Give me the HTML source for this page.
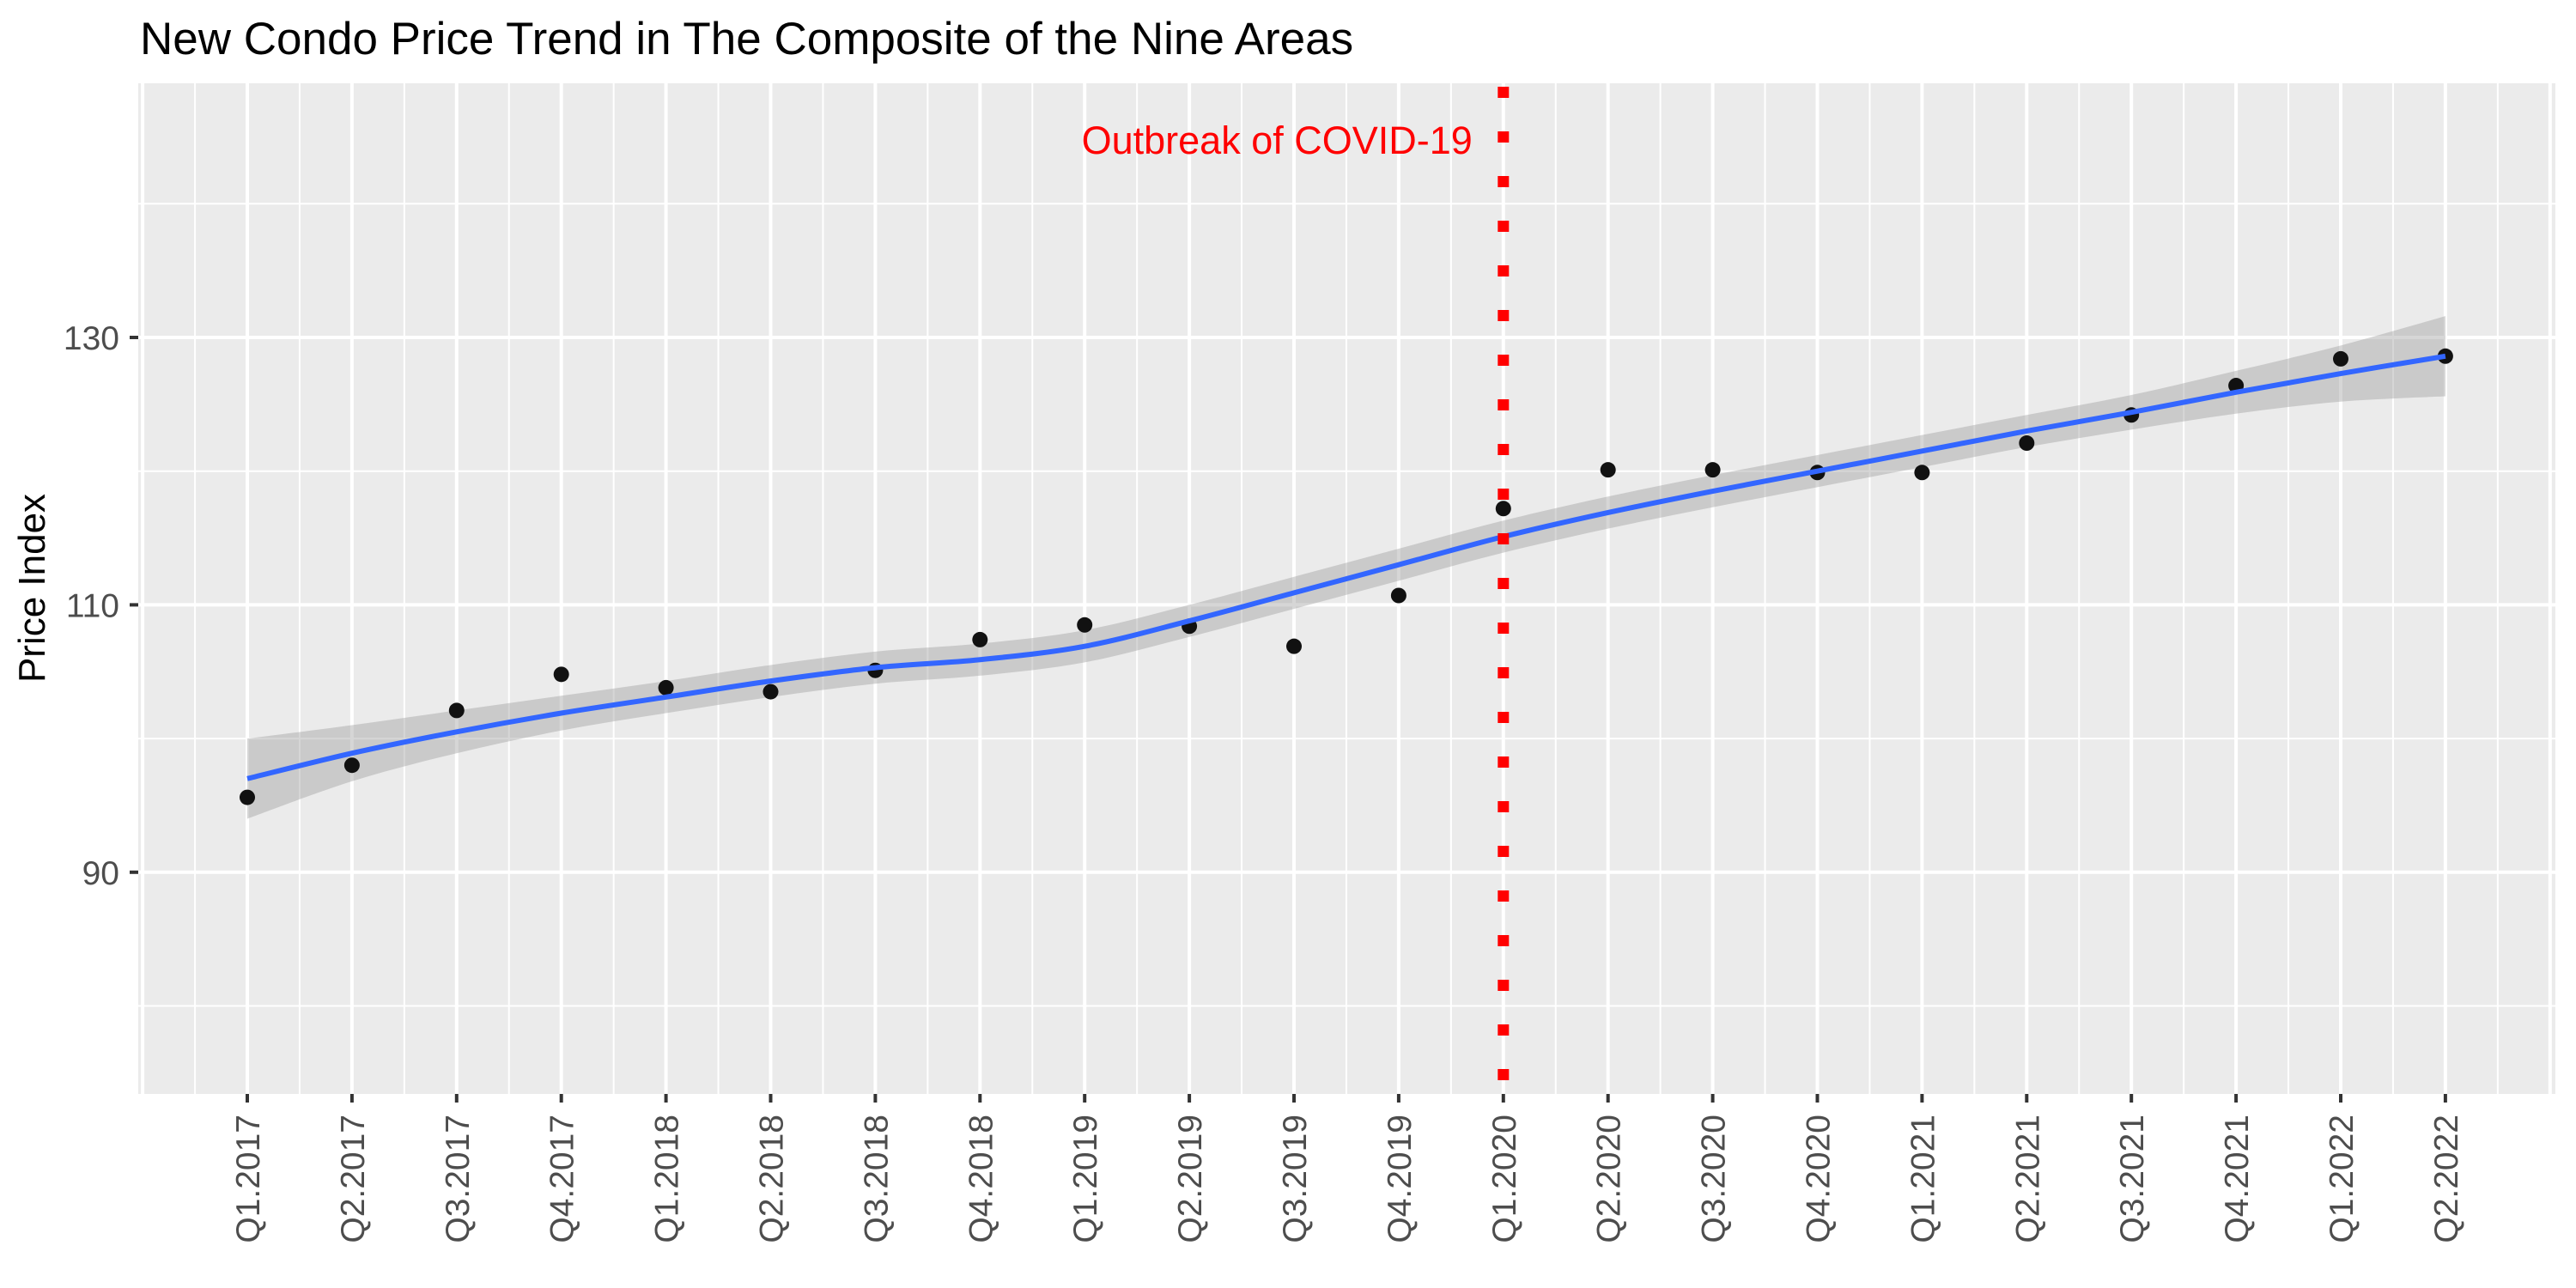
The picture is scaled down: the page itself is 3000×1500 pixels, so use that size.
<!DOCTYPE html>
<html><head><meta charset="utf-8"><style>
html,body{margin:0;padding:0;background:#fff;}
svg{display:block;font-family:"Liberation Sans",Arial,sans-serif;}
</style></head><body>
<svg id="chart" width="3000" height="1500" viewBox="0 0 3000 1500" xmlns="http://www.w3.org/2000/svg">
<rect x="0" y="0" width="3000" height="1500" fill="#fff"/>
<text x="163" y="63" font-size="53" fill="#000">New Condo Price Trend in The Composite of the Nine Areas</text>
<rect x="161" y="97" width="2815" height="1177" fill="#ebebeb"/>
<g id="grid"></g>
<g id="ribbon"></g>
<g id="marks"></g>
<g id="axes"></g>
<text transform="translate(52,685) rotate(-90)" text-anchor="middle" font-size="44" fill="#000">Price Index</text>
</svg>
<script>
const categories = ["Q1.2017","Q2.2017","Q3.2017","Q4.2017","Q1.2018","Q2.2018","Q3.2018","Q4.2018","Q1.2019","Q2.2019","Q3.2019","Q4.2019","Q1.2020","Q2.2020","Q3.2020","Q4.2020","Q1.2021","Q2.2021","Q3.2021","Q4.2021","Q1.2022","Q2.2022"];
const priceIndex = [95.6,98.0,102.1,104.8,103.8,103.5,105.1,107.4,108.5,108.4,106.9,110.7,117.2,120.1,120.1,119.9,119.9,122.1,124.2,126.4,128.4,128.6];
const smoothFit = [97.0,98.9,100.5,101.9,103.1,104.3,105.3,105.9,106.9,108.8,110.9,113.0,115.1,116.9,118.5,120.0,121.5,123.0,124.4,125.9,127.3,128.6];
const ciHalfWidth = [3.0,2.1,1.6,1.3,1.2,1.2,1.2,1.2,1.2,1.2,1.2,1.2,1.2,1.2,1.2,1.2,1.2,1.2,1.3,1.6,2.1,3.0];
const yTicks = [90,110,130];
const yMinor = [80,100,120,140];
const eventIndex = 12;
const eventLabel = "Outbreak of COVID-19";

const NS="http://www.w3.org/2000/svg";
const PL=161,PR=2976,PT=97,PB=1274;
const X0=288,STEP=121.9;
function xs(i){return X0+i*STEP;}
function ys(v){return 393+(130-v)*15.57;}
function mk(tag,attrs,parent){const e=document.createElementNS(NS,tag);for(const k in attrs)e.setAttribute(k,attrs[k]);parent.appendChild(e);return e;}
function smoothPath(pts,start){
 let d=(start?'M':'L')+pts[0][0]+','+pts[0][1];
 for(let i=0;i<pts.length-1;i++){
  const p0=pts[Math.max(i-1,0)],p1=pts[i],p2=pts[i+1],p3=pts[Math.min(i+2,pts.length-1)];
  const c1=[p1[0]+(p2[0]-p0[0])/6,p1[1]+(p2[1]-p0[1])/6];
  const c2=[p2[0]-(p3[0]-p1[0])/6,p2[1]-(p3[1]-p1[1])/6];
  d+=` C${c1[0]},${c1[1]} ${c2[0]},${c2[1]} ${p2[0]},${p2[1]}`;
 }
 return d;
}
const grid=document.getElementById('grid'),rib=document.getElementById('ribbon'),marks=document.getElementById('marks'),axes=document.getElementById('axes');

yMinor.forEach(v=>{const y=ys(v);if(y<PT||y>PB)return;
 const l=mk('line',{x1:PL,x2:PR,y1:y,y2:y,stroke:'#fff','stroke-width':2},grid);
 
 });
for(let i=-1;i<=categories.length;i++){const x=xs(i)-STEP/2;if(x<PL||x>PR)continue;
 const l=mk('line',{x1:x,x2:x,y1:PT,y2:PB,stroke:'#fff','stroke-width':2},grid);
 
 }
{const x=xs(-1);const l=mk('line',{x1:x,x2:x,y1:PT,y2:PB,stroke:'#fff','stroke-width':4},grid);
 
 }
{const x=xs(categories.length);const l=mk('line',{x1:x,x2:x,y1:PT,y2:PB,stroke:'#fff','stroke-width':4},grid);
 
 }
yTicks.forEach(v=>{const y=ys(v);
 const l=mk('line',{x1:PL,x2:PR,y1:y,y2:y,stroke:'#fff','stroke-width':4},grid);
 
 
 const t=mk('line',{x1:PL-10,x2:PL,y1:y,y2:y,stroke:'#333','stroke-width':4},axes);
 
 
 const tx=mk('text',{x:PL-22,y:y+14,'text-anchor':'end','font-size':39,fill:'#4d4d4d'},axes);
 tx.textContent=v;
 
 });
categories.forEach((c,i)=>{const x=xs(i);
 const l=mk('line',{x1:x,x2:x,y1:PT,y2:PB,stroke:'#fff','stroke-width':4},grid);
 
 
 const t=mk('line',{x1:x,x2:x,y1:PB,y2:PB+10,stroke:'#333','stroke-width':4},axes);
 
 
 const tx=mk('text',{transform:`translate(${x+14},${PB+24}) rotate(-90)`,'text-anchor':'end','font-size':39,fill:'#4d4d4d'},axes);
 tx.textContent=c;
 
 });

const upPts=smoothFit.map((v,i)=>[xs(i),ys(v+ciHalfWidth[i])]);
const loPts=smoothFit.map((v,i)=>[xs(i),ys(v-ciHalfWidth[i])]).reverse();
const rb=mk('path',{d:smoothPath(upPts,true)+' '+smoothPath(loPts,false)+' Z',fill:'#999','fill-opacity':0.4},rib);



priceIndex.forEach((v,i)=>{const c=mk('circle',{cx:xs(i),cy:ys(v),r:9,fill:'#111'},marks);
 
 });
const ln=mk('path',{d:smoothPath(smoothFit.map((v,i)=>[xs(i),ys(v)]),true),fill:'none',stroke:'#3366FF','stroke-width':6,'stroke-linejoin':'round'},marks);


const ex=xs(eventIndex);
const ev=mk('line',{x1:ex,x2:ex,y1:PT,y2:PB,stroke:'#ff0000','stroke-width':13,'stroke-dasharray':'13 39','stroke-dashoffset':-4},marks);


const el=mk('text',{x:ex-36,y:179,'text-anchor':'end','font-size':45,fill:'#ff0000'},marks);
el.textContent=eventLabel;


</script>
</body></html>
